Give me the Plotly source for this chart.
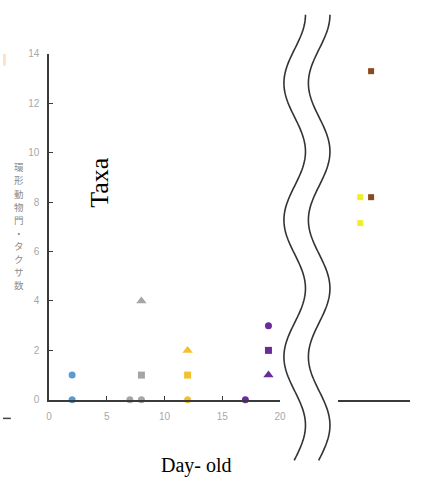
import numpy as np
import plotly.graph_objects as go

W, H = 426, 484

# ---------------- data ----------------
blue_x = [2, 2]
blue_y = [1, 0]
blue_sym = ["circle", "circle"]

gray_x = [7, 8, 8, 8]
gray_y = [0, 0, 1, 4]
gray_sym = ["circle", "circle", "square", "triangle-up"]

yellow_x = [12, 12, 12]
yellow_y = [0, 1, 2]
yellow_sym = ["circle", "square", "triangle-up"]

purple_x = [17, 19, 19, 19]
purple_y = [0, 3, 2, 1]
purple_sym = ["circle", "circle", "square", "triangle-up"]

# right-hand (broken-axis) panel
adult_yellow_x = [3.1, 3.1]
adult_yellow_y = [8.2, 7.15]
adult_brown_x = [4.6, 4.6]
adult_brown_y = [13.3, 8.2]

x_ticks = [0, 5, 10, 15, 20]
y_ticks = [0, 2, 4, 6, 8, 10, 12, 14]

ytitle_jp = "環形動物門・タクサ数"
# --------------------------------------

def px(x):
    return x / W

def py(y):
    return 1 - y / H

fig = go.Figure()

def add(xs, ys, syms, color, xaxis="x", size=7):
    sizes = [size + 2 if s.startswith("triangle") else size for s in syms]
    fig.add_trace(go.Scatter(
        x=xs, y=ys, mode="markers", xaxis=xaxis, yaxis="y",
        marker=dict(symbol=syms, color=color, size=sizes, opacity=1,
                    line=dict(width=0)),
        cliponaxis=False, showlegend=False, hoverinfo="skip"))

add(blue_x, blue_y, blue_sym, "#5b9bd5")
add(gray_x, gray_y, gray_sym, "#a5a5a5")
add(yellow_x, yellow_y, yellow_sym, "#f2c12e")
add(purple_x, purple_y, purple_sym, "#6a2c9a")
add(adult_yellow_x, adult_yellow_y, ["square"] * 2, "#eeee2a", xaxis="x2", size=6)
add(adult_brown_x, adult_brown_y, ["square"] * 2, "#8a4a1c", xaxis="x2", size=6)

axis_line = "#3a3a3a"
tick_font = dict(family="Liberation Sans, Arial, sans-serif", size=10, color="#a8a8a8")

fig.update_layout(
    width=W, height=H,
    margin=dict(l=0, r=0, t=0, b=0),
    paper_bgcolor="white", plot_bgcolor="white",
    xaxis=dict(domain=[47 / W, 283 / W], range=[0, 20], anchor="y",
               showline=True, linecolor=axis_line, linewidth=1.5,
               ticks="inside", ticklen=4, tickwidth=1, tickcolor=axis_line,
               tickvals=x_ticks, tickfont=tick_font, ticklabelstandoff=6,
               showgrid=False, zeroline=False),
    yaxis=dict(domain=[80 / H, 434 / H], range=[0, 14], anchor="x",
               showline=True, linecolor=axis_line, linewidth=1.5,
               ticks="inside", ticklen=4, tickwidth=1, tickcolor=axis_line,
               tickvals=y_ticks, tickfont=tick_font, ticklabelstandoff=6,
               showgrid=False, zeroline=False),
    xaxis2=dict(domain=[342 / W, 416 / W], range=[0, 10], anchor="y",
                showline=True, linecolor=axis_line, linewidth=1.5,
                ticks="", showticklabels=False, showgrid=False, zeroline=False),
)

# wavy break lines (decorative)
yy = np.arange(10, 468, 2.0)
for off in (0, 25):
    xx = 298 + off + 11 * np.cos(2 * np.pi * (yy - 10) / 140)
    path = "M " + " L ".join(f"{px(a):.5f},{py(b):.5f}" for a, b in zip(xx, yy))
    fig.add_shape(type="path", path=path, xref="paper", yref="paper",
                  line=dict(color="#333333", width=1.6))

# small dash at left edge
fig.add_shape(type="line", xref="paper", yref="paper",
              x0=px(0), x1=px(8), y0=py(423), y1=py(423),
              line=dict(color="#444444", width=1.5))
# faint orange fragment at left edge
fig.add_shape(type="rect", xref="paper", yref="paper",
              x0=px(0), x1=px(3), y0=py(62), y1=py(50),
              line=dict(width=0), fillcolor="#fbe3c4")

fig.add_annotation(x=px(99), y=py(181), xref="paper", yref="paper",
                   xanchor="center", yanchor="middle",
                   text="Taxa", textangle=-90, showarrow=False,
                   font=dict(family="Liberation Serif, Times New Roman, serif", size=26, color="black"))
fig.add_annotation(x=px(198), y=py(471), xref="paper", yref="paper",
                   xanchor="center", yanchor="middle",
                   text="Day- old", showarrow=False,
                   font=dict(family="Liberation Serif, Times New Roman, serif", size=20, color="black"))

# vertical (tategaki) Japanese axis title, one character per line
n = len(ytitle_jp)
top, bottom = 166, 287
for i, ch in enumerate(ytitle_jp):
    yc = top + (bottom - top) * i / (n - 1)
    fig.add_annotation(x=px(16), y=py(yc), xref="paper", yref="paper",
                       xanchor="center", yanchor="middle", borderpad=0,
                       text=ch, showarrow=False,
                       font=dict(family="Noto Sans CJK JP", size=9.5, color="#8a8a8a"))

fig.write_html("out.html")
